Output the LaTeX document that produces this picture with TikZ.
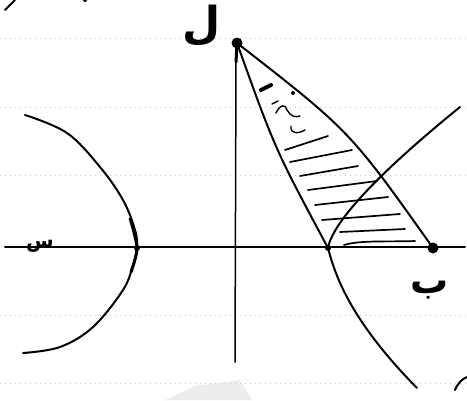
\documentclass[tikz,border=0pt]{standalone}
\usepackage{fontspec}
\newfontfamily\arabicfont[Script=Arabic]{DejaVu Sans}
\TeXXeTstate=1
\begin{document}
\begin{tikzpicture}[x=1pt,y=-1pt,
  ink/.style={line width=2pt, line cap=round, line join=round},
  notebook/.style={gray!45, dash pattern=on 1pt off 4pt, line width=0.7pt},
  hatch/.style={line width=1.7pt, line cap=round},
  dotmark/.style={fill=black},
  lbl/.style={inner sep=0pt}]
\useasboundingbox (0,0) rectangle (467,400);
% faint gray smudge
\fill[gray!14] (165,400) -- (195,386) -- (240,380) -- (252,400) -- cycle;
% notebook ruling
\foreach \yy in {38,107,175,315,383} \draw[notebook] (0,\yy) -- (467,\yy);
% key points
\coordinate (L) at (237,43);
\coordinate (A) at (328,248);
\coordinate (B) at (433,248);
\coordinate (V) at (137,248);
\coordinate (xl) at (5,247);
\coordinate (xr) at (465,247);
\coordinate (yt) at (236,62);
\coordinate (yb) at (235,362);
% axes
\draw[ink] (xl) -- (xr);
\draw[ink, line width=1.5pt] (yt) -- (yb);
\draw[line width=3pt, line cap=round] (L) -- (yt);
% left branch
\draw[ink] plot[smooth, tension=0.6] coordinates {(25,115) (67,133) (100,167) (123,200) (135,230) (137,248) (133,265) (123,290) (93,327) (60,347) (23,353)};
\draw[line width=3pt] plot[smooth] coordinates {(130,218) (137,248) (131,272)};
% right branch
\draw[ink] (460,107) .. controls (370,180) and (332,225) .. (A)
  .. controls (335,275) and (350,320) .. (417,388);
% triangle
\draw[ink] (L) .. controls (275,149) .. (A);
\draw[ink] (L) .. controls (350,131) .. (B);
% hatching
\draw[hatch] (285,150) -- (328,136);
\draw[hatch] (290,162) -- (352,150);
\draw[hatch] (300,176) -- (358,166);
\draw[hatch] (308,190) -- (377,181);
\draw[hatch] (315,205) -- (388,197);
\draw[hatch] (322,220) -- (400,214);
\draw[hatch] (340,232) -- (405,229);
\draw[hatch] (344,245) .. controls (360,240) and (390,242) .. (415,241);
% marks near the top of the triangle
\draw[line width=4pt, line cap=round] (261,90) -- (271,85);
\fill (293,93) circle (2);
\draw[line width=1.4pt, line cap=round] (272,104) -- (278,101);
\draw[line width=1.4pt, line cap=round] (276,113) .. controls (280,104) and (286,104) .. (287,110) .. controls (290,116) and (296,118) .. (300,116);
\draw[line width=1.4pt, line cap=round] (291,126) .. controls (290,134) and (298,134) .. (305,130);
% dots
\fill[dotmark] (L) circle (5.5);
\fill[dotmark] (B) circle (5.5);
\fill[dotmark] (A) circle (3);
\fill[dotmark] (V) circle (3);
% labels
\node[lbl, font=\arabicfont\bfseries\fontsize{44}{44}\selectfont] (labL) at (202,26) {\beginR ل\endR};
\node[lbl, font=\arabicfont\bfseries\fontsize{38}{38}\selectfont] (labB) at (430,290) {\beginR ب\endR};
\node[lbl, anchor=base, font=\arabicfont\bfseries\fontsize{20}{20}\selectfont] (labS) at (40,247) {\beginR س\endR};
% cut-off marks at edges
\draw[line width=2pt, line cap=round] (5,10) -- (15,0);
\fill (85,0) circle (2);
\draw[ink] (455,390) .. controls (458,383) and (462,379) .. (467,377);
\end{tikzpicture}
\end{document}
